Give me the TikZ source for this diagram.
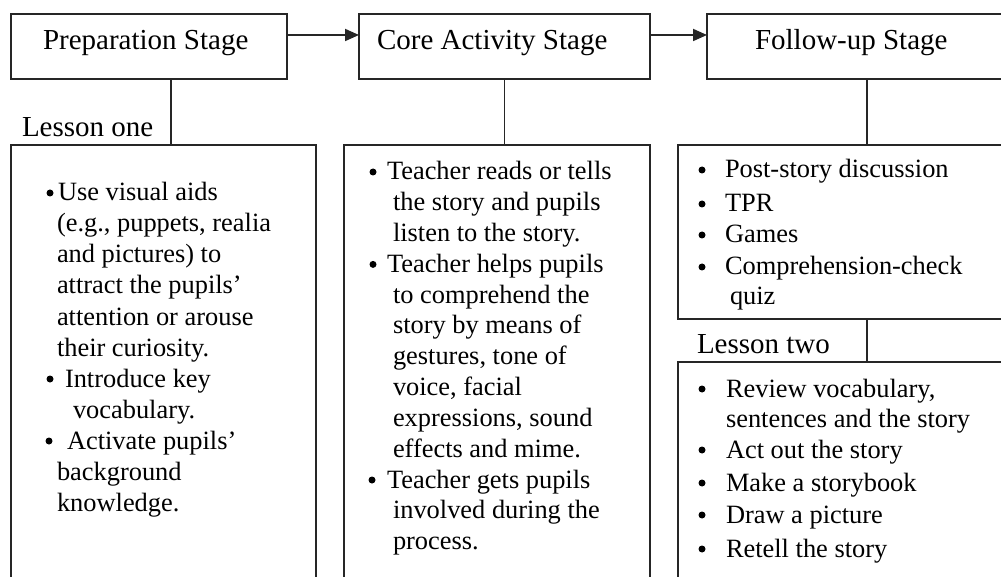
\documentclass[tikz,border=0pt]{standalone}
\usepackage{fontspec}
\setmainfont{Liberation Serif}
\usetikzlibrary{arrows.meta,calc}
\newcommand\bodyfnt{\fontsize{26.4}{31}\selectfont}
\newcommand\titlefnt{\fontsize{29}{34}\selectfont}
\tikzset{
  box/.style={draw=black!85, line width=1.8pt, inner sep=0pt, outer sep=0pt},
  body/.style={anchor=base west, inner sep=0pt, outer sep=0pt, font=\bodyfnt},
  ttl/.style={anchor=base west, inner sep=0pt, outer sep=0pt, font=\titlefnt},
  dot/.style={circle, fill=black, draw=none, inner sep=0pt, minimum size=7pt},
  conn/.style={draw=black!85, line width=1.8pt},
  arr/.style={conn, -{Triangle[length=14pt,width=12pt]}}
}
\begin{document}
\begin{tikzpicture}[x=1pt,y=1pt]
\useasboundingbox (0,0) rectangle (1001,-577);
\clip (0,0) rectangle (1001,-577);
\fill[white] (0,0) rectangle (1001,-577);
% stage boxes
\node[box, minimum width=276pt, minimum height=65pt] (b1) at (149,-46.5) {};
\node[box, minimum width=291pt, minimum height=65pt] (b2) at (504.5,-46.5) {};
\node[box, minimum width=320pt, minimum height=65pt] (b3) at (867,-46.5) {};
\node[ttl] (t1) at (43,-50) {Preparation Stage};
\node[ttl] (t2) at (377,-50) {Core Activity Stage};
\node[ttl] (t3) at (755,-50) {Follow-up Stage};
% content boxes
\node[box, minimum width=305pt, minimum height=455pt] (l1) at (163.5,-372.5) {};
\node[box, minimum width=306pt, minimum height=455pt] (cb) at (497,-372.5) {};
\node[box, minimum width=378pt, minimum height=174pt] (fb) at (867,-232) {};
\node[box, minimum width=378pt, minimum height=238pt] (lb) at (867,-481) {};
% connectors
\draw[arr] ($(b1.north east)!0.323!(b1.south east)$) -- ($(b2.north west)!0.323!(b2.south west)$);
\draw[arr] ($(b2.north east)!0.323!(b2.south east)$) -- ($(b3.north west)!0.323!(b3.south west)$);
\draw[conn] ($(b1.south west)!0.58!(b1.south east)$) coordinate (v1) -- (v1 |- l1.north);
\draw[conn] (b2.south) -- (b2.south |- cb.north);
\draw[conn] (b3.south) -- (b3.south |- fb.north);
\draw[conn] (fb.south) -- (fb.south |- lb.north);
% labels
\node[ttl] (lo) at (22,-137) {Lesson one};
\node[ttl] (lt) at (697,-353) {Lesson two};
% lesson one text
\node[dot] (d11) at (50,-193) {};
\node[body] (p1) at (58,-201) {Use visual aids};
\node[body] (p2) at (57,-232) {(e.g., puppets, realia};
\node[body] (p3) at (57,-263) {and pictures) to};
\node[body] (p4) at (57,-294) {attract the pupils’};
\node[body] (p5) at (57,-325) {attention or arouse};
\node[body] (p6) at (57,-356) {their curiosity.};
\node[dot] (d12) at (50,-379) {};
\node[body] (p7) at (65,-387) {Introduce key};
\node[body] (p8) at (73,-418) {vocabulary.};
\node[dot] (d13) at (49,-441) {};
\node[body] (p9) at (67,-449) {Activate pupils’};
\node[body] (p10) at (57,-480) {background};
\node[body] (p11) at (57,-511) {knowledge.};
% core text
\node[dot] (d21) at (373,-172) {};
\node[body] (c1) at (387,-180) {Teacher reads or tells};
\node[body] (c2) at (393,-210.8) {the story and pupils};
\node[body] (c3) at (393,-241.6) {listen to the story.};
\node[dot] (d22) at (373,-264.4) {};
\node[body] (c4) at (387,-272.4) {Teacher helps pupils};
\node[body] (c5) at (393,-303.2) {to comprehend the};
\node[body] (c6) at (393,-334) {story by means of};
\node[body] (c7) at (393,-364.8) {gestures, tone of};
\node[body] (c8) at (393,-395.6) {voice, facial};
\node[body] (c9) at (393,-426.4) {expressions, sound};
\node[body] (c10) at (393,-457.2) {effects and mime.};
\node[dot] (d23) at (372,-480) {};
\node[body] (c11) at (387,-488) {Teacher gets pupils};
\node[body] (c12) at (393,-518.8) {involved during the};
\node[body] (c13) at (393,-549.6) {process.};
% follow-up text
\node[dot] (d31) at (702,-170) {};
\node[body] (f1) at (725,-178) {Post-story discussion};
\node[dot] (d32) at (702,-204) {};
\node[body] (f2) at (725,-212) {TPR};
\node[dot] (d33) at (702,-235) {};
\node[body] (f3) at (725,-243) {Games};
\node[dot] (d34) at (702,-267) {};
\node[body] (f4) at (725,-275) {Comprehension-check};
\node[body] (f5) at (730,-305) {quiz};
% lesson two text
\node[dot] (d41) at (702,-389) {};
\node[body] (g1) at (726,-397) {Review vocabulary,};
\node[body] (g2) at (726,-427) {sentences and the story};
\node[dot] (d42) at (702,-450) {};
\node[body] (g3) at (726,-458) {Act out the story};
\node[dot] (d43) at (702,-483) {};
\node[body] (g4) at (726,-491) {Make a storybook};
\node[dot] (d44) at (702,-515) {};
\node[body] (g5) at (726,-523) {Draw a picture};
\node[dot] (d45) at (702,-549) {};
\node[body] (g6) at (726,-557) {Retell the story};
\end{tikzpicture}
\end{document}
